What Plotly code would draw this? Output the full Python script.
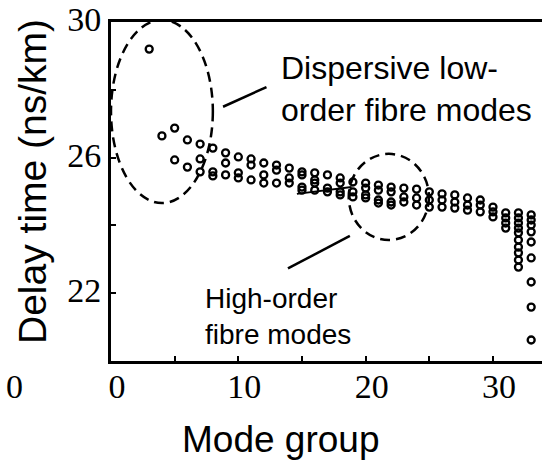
import plotly.graph_objects as go

# Measured delay per mode (ns/km), grouped by principal mode group
mode_group = (
    [3] + [4] + [5] * 2 + [6] * 2 + [7] * 3 + [8] * 3 + [9] * 3 + [10] * 3
    + [11] * 3 + [12] * 3 + [13] * 3 + [14] * 3 + [15] * 4 + [16] * 4
    + [17] * 3 + [18] * 4 + [19] * 3 + [20] * 4 + [21] * 4 + [22] * 4
    + [23] * 3 + [24] * 3 + [25] * 3 + [26] * 3 + [27] * 3 + [28] * 3
    + [29] * 3 + [30] * 3 + [31] * 4 + [32] * 10 + [33] * 9
)
delay_ns_km = [
    29.20,
    26.64,
    26.87, 25.93,
    26.52, 25.72,
    26.40, 25.96, 25.58,
    26.28, 25.58, 25.46,
    26.14, 25.84, 25.49,
    26.02, 25.55, 25.40,
    25.96, 25.78, 25.34,
    25.84, 25.49, 25.25,
    25.78, 25.63, 25.25,
    25.69, 25.40, 25.25,
    25.58, 25.49, 25.13, 25.04,
    25.55, 25.34, 25.25, 25.04,
    25.49, 25.10, 24.99,
    25.40, 25.25, 24.99, 24.90,
    25.28, 24.99, 24.84,
    25.25, 25.10, 24.90, 24.81,
    25.19, 25.04, 24.75, 24.66,
    25.13, 24.99, 24.69, 24.60,
    25.10, 24.84, 24.69,
    25.07, 24.81, 24.60,
    24.99, 24.75, 24.54,
    24.93, 24.75, 24.54,
    24.90, 24.69, 24.51,
    24.81, 24.60, 24.45,
    24.75, 24.60, 24.40,
    24.54, 24.40, 24.25,
    24.37, 24.22, 24.07, 23.92,
    24.37, 24.22, 24.07, 23.92, 23.78, 23.57, 23.36, 23.19, 22.98, 22.77,
    24.31, 24.16, 24.01, 23.81, 23.51, 23.04, 22.33, 21.59, 20.62,
]

x_ticks = [0, 5, 10, 15, 20, 25, 30]
x_tick_text = ["0", "", "10", "", "20", "", "30"]
y_ticks = [22, 24, 26, 28, 30]
y_tick_text = ["22", "", "26", "", "30"]

SERIF = "Liberation Serif"
SANS = "Liberation Sans"

fig = go.Figure()
fig.add_trace(go.Scatter(
    x=mode_group, y=delay_ns_km, mode="markers",
    marker=dict(symbol="circle-open", size=7, color="black",
                line=dict(width=2.3, color="black")),
    cliponaxis=False, showlegend=False,
))

dash = "10px,6px"
shapes = [
    # ellipse around the low-order modes
    dict(type="circle", xref="x", yref="y", x0=0.0, x1=8.0, y0=24.66, y1=30.06,
         line=dict(color="black", width=2.5, dash=dash)),
    # ellipse around the high-order modes
    dict(type="circle", xref="x", yref="y", x0=18.67, x1=24.97, y0=23.57, y1=26.11,
         line=dict(color="black", width=2.5, dash=dash)),
    # pointer lines
    dict(type="line", xref="x", yref="y", x0=8.8, y0=27.5, x1=12.21, y1=28.08,
         line=dict(color="black", width=2.5)),
    dict(type="line", xref="x", yref="y", x0=13.9, y0=22.73, x1=18.76, y1=23.69,
         line=dict(color="black", width=2.5)),
    dict(type="line", xref="x", yref="y", x0=14.6, y0=24.93, x1=18.9, y1=25.13,
         line=dict(color="black", width=2)),
]

annotations = [
    dict(text="Dispersive low-<br>order fibre modes", xref="paper", yref="paper",
         x=0.39, y=0.802, xanchor="left", yanchor="middle", align="left",
         showarrow=False, font=dict(family=SANS, size=32, color="black")),
    dict(text="High-order<br>fibre modes", xref="paper", yref="paper",
         x=0.213, y=0.131, xanchor="left", yanchor="middle", align="left",
         showarrow=False, font=dict(family=SANS, size=28, color="black")),
    dict(text="0", xref="paper", yref="paper", x=-0.223, y=-0.075,
         xanchor="center", yanchor="middle", showarrow=False,
         font=dict(family=SERIF, size=34, color="black")),
    # axis titles
    dict(text="Mode group", xref="paper", yref="paper", x=0.394, y=-0.233,
         xanchor="center", yanchor="middle", showarrow=False,
         font=dict(family=SANS, size=37, color="black")),
    dict(text="Delay time (ns/km)", xref="paper", yref="paper", x=-0.181, y=0.531,
         xanchor="center", yanchor="middle", textangle=-90, showarrow=False,
         font=dict(family=SANS, size=39, color="black")),
]

fig.update_layout(
    width=542, height=465,
    margin=dict(l=111, r=0, t=22, b=104),
    paper_bgcolor="white", plot_bgcolor="white",
    shapes=shapes, annotations=annotations,
    xaxis=dict(
        range=[0, 33.85], tickvals=x_ticks, ticktext=x_tick_text,
        ticks="inside", ticklen=5, tickwidth=2, tickcolor="black",
        showline=True, linewidth=3, linecolor="black", mirror=True,
        showgrid=False, zeroline=False, ticklabelshift=6, ticklabelstandoff=-7,
        tickfont=dict(family=SERIF, size=34, color="black"),
    ),
    yaxis=dict(
        range=[20, 30], tickvals=y_ticks, ticktext=y_tick_text,
        ticks="inside", ticklen=5, tickwidth=2, tickcolor="black",
        showline=True, linewidth=3, linecolor="black", mirror=False,
        showgrid=False, zeroline=False, ticklabelshift=-3,
        tickfont=dict(family=SERIF, size=34, color="black"),
    ),
)

fig.write_html("out.html")
